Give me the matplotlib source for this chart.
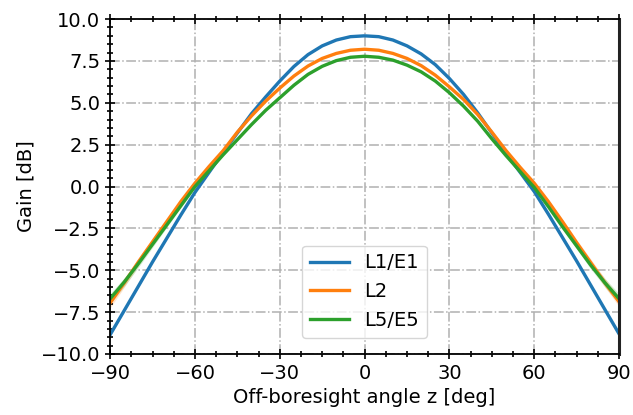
import numpy as np
import matplotlib
matplotlib.use("Agg")
import matplotlib.pyplot as plt
from matplotlib.ticker import MultipleLocator

# off-boresight angle grid [deg]
angle = list(range(-90, 95, 5))

# gain [dB], one value per angle
gain_l1 = [-8.85, -7.4, -5.95, -4.5, -3.1, -1.7, -0.35, 0.85, 2.05, 3.2, 4.35, 5.35, 6.3,
           7.17, 7.88, 8.4, 8.75, 8.95, 9.0,
           8.95, 8.75, 8.4, 7.92, 7.28, 6.45, 5.5, 4.4, 3.2, 2.0, 0.85, -0.3, -1.65,
           -3.05, -4.45, -5.9, -7.35, -8.8]
gain_l2 = [-6.95, -5.75, -4.5, -3.3, -2.1, -0.9, 0.2, 1.2, 2.15, 3.25, 4.22, 5.1, 5.88,
           6.6, 7.2, 7.65, 7.95, 8.14, 8.2,
           8.14, 7.95, 7.65, 7.22, 6.65, 5.95, 5.2, 4.3, 3.25, 2.15, 1.15, 0.2, -0.9,
           -2.1, -3.35, -4.55, -5.75, -6.88]
gain_l5 = [-6.7, -5.7, -4.6, -3.45, -2.3, -1.15, 0.0, 0.95, 1.9, 2.8, 3.7, 4.55, 5.3,
           6.05, 6.7, 7.18, 7.52, 7.72, 7.78,
           7.72, 7.55, 7.25, 6.85, 6.3, 5.6, 4.8, 3.9, 2.85, 1.85, 0.9, -0.05, -1.2,
           -2.4, -3.55, -4.7, -5.75, -6.7]

# half-width of the shaded spread [dB]
band_l1 = [0.08, 0.07, 0.06, 0.05, 0.04, 0.04, 0.03, 0.03, 0.03, 0.03, 0.03, 0.03, 0.03,
           0.03, 0.03, 0.03, 0.03, 0.03, 0.03,
           0.03, 0.03, 0.03, 0.03, 0.03, 0.03, 0.03, 0.03, 0.03, 0.03, 0.03, 0.03, 0.04,
           0.04, 0.05, 0.06, 0.07, 0.08]
band_l2 = [0.3, 0.26, 0.22, 0.18, 0.14, 0.1, 0.08, 0.06, 0.05, 0.04, 0.04, 0.04, 0.04,
           0.04, 0.04, 0.04, 0.04, 0.04, 0.04,
           0.04, 0.04, 0.04, 0.04, 0.04, 0.04, 0.04, 0.04, 0.04, 0.05, 0.06, 0.08, 0.1,
           0.14, 0.18, 0.22, 0.26, 0.3]
band_l5 = [0.3, 0.26, 0.22, 0.18, 0.14, 0.1, 0.08, 0.06, 0.05, 0.04, 0.04, 0.04, 0.04,
           0.04, 0.04, 0.04, 0.04, 0.04, 0.04,
           0.04, 0.04, 0.04, 0.04, 0.04, 0.04, 0.04, 0.04, 0.04, 0.05, 0.06, 0.08, 0.1,
           0.14, 0.18, 0.22, 0.26, 0.3]

labels = ["L1/E1", "L2", "L5/E5"]
colors = ["#1f77b4", "#ff7f0e", "#2ca02c"]

plt.rcParams["font.family"] = ["DejaVu Sans"]
plt.rcParams["font.size"] = 14

fig, ax = plt.subplots(figsize=(6.33, 4.15), dpi=100)
fig.subplots_adjust(left=0.174, right=0.978, bottom=0.147, top=0.954)

x = np.array(angle)
for g, b, lab, c in zip([gain_l1, gain_l2, gain_l5], [band_l1, band_l2, band_l5], labels, colors):
    g = np.array(g); b = np.array(b)
    ax.fill_between(x, g - b, g + b, color=c, alpha=0.2, lw=0)
    ax.plot(x, g, color=c, lw=2.4, label=lab)

ax.set_xlim(-90, 90)
ax.set_ylim(-10, 10)
ax.xaxis.set_major_locator(MultipleLocator(30))
ax.xaxis.set_minor_locator(MultipleLocator(7.5))
ax.yaxis.set_major_locator(MultipleLocator(2.5))
ax.yaxis.set_minor_locator(MultipleLocator(0.5))
ax.tick_params(which="both", direction="inout", top=True, right=False, width=1.2)
ax.tick_params(which="major", length=7)
ax.tick_params(which="minor", length=4)
ax.grid(True, which="major", ls="-.", color="#b0b0b0", lw=1.1)
for s in ["left", "top", "bottom"]:
    ax.spines[s].set_linewidth(1.3)
ax.spines["right"].set_linewidth(2.2)
ax.spines["right"].set_color("#222222")

ax.set_xlabel("Off-boresight angle z [deg]")
ax.set_ylabel("Gain [dB]")
ax.legend(loc="lower center", bbox_to_anchor=(0.5, 0.02), fontsize=14)

fig.savefig("out.png", dpi=100)
